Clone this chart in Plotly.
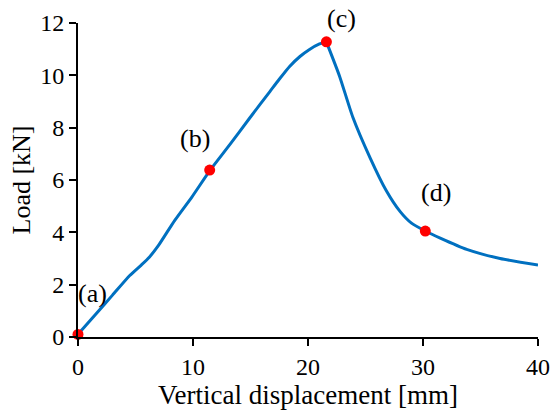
import plotly.graph_objects as go

# Curve data (vertical displacement [mm], load [kN]) - rising branch and softening branch
rise_x = [0, 1.5, 3.0, 4.5, 5.5, 6.2, 7.0, 8.4, 9.9, 11.45, 13.2, 14.9,
          16.7, 17.5, 18.4, 19.3, 20.1, 21.0, 21.6]
rise_y = [0.1, 0.85, 1.6, 2.35, 2.75, 3.05, 3.5, 4.45, 5.35, 6.35, 7.35, 8.35,
          9.39, 9.85, 10.34, 10.72, 10.98, 11.2, 11.28]
fall_x = [21.6, 22.75, 23.9, 25.4, 26.8, 28.0, 29.0, 30.2, 31.5, 33.8, 36.7, 40.0]
fall_y = [11.28, 9.96, 8.4, 6.85, 5.6, 4.8, 4.35, 4.05, 3.78, 3.35, 3.0, 2.75]

# Marked stages
stage_x = [0, 11.45, 21.6, 30.2]
stage_y = [0.1, 6.38, 11.28, 4.05]
stage_labels = ["(a)", "(b)", "(c)", "(d)"]
label_x = [1.23, 10.2, 22.9, 31.1]
label_y = [1.65, 7.57, 12.19, 5.52]

x_ticks = [0, 10, 20, 30, 40]
y_ticks = [0, 2, 4, 6, 8, 10, 12]
Y_RANGE = [0, 12]

FONT = "Liberation Serif, Times New Roman, serif"

fig = go.Figure()
for xs, ys in ((rise_x, rise_y), (fall_x, fall_y)):
    fig.add_trace(go.Scatter(x=xs, y=ys, mode="lines",
                             line=dict(color="#0070C0", width=3, shape="spline", smoothing=0.6),
                             showlegend=False, hoverinfo="skip"))
fig.add_trace(go.Scatter(x=stage_x, y=stage_y, mode="markers",
                         marker=dict(color="#FF0000", size=11), showlegend=False,
                         cliponaxis=False, hoverinfo="skip"))

# stage labels (paper y so that the label above the axis top is not hidden)
for lx, ly, t in zip(label_x, label_y, stage_labels):
    fig.add_annotation(x=lx, xref="x", y=(ly - Y_RANGE[0]) / (Y_RANGE[1] - Y_RANGE[0]),
                       yref="paper", text=t, showarrow=False,
                       xanchor="center", yanchor="middle",
                       font=dict(family=FONT, size=26, color="black"))

fig.update_layout(
    width=551, height=417,
    margin=dict(l=78, r=13, t=23, b=80, autoexpand=False),
    paper_bgcolor="white", plot_bgcolor="white",
    font=dict(family=FONT, size=24, color="black"),
    xaxis=dict(range=[0, 40], tickvals=x_ticks, showgrid=False, zeroline=False,
               showline=True, linecolor="black", linewidth=2, automargin=False,
               ticks="outside", ticklen=7, tickwidth=2, tickcolor="black",
               title=dict(text="Vertical displacement [mm]", font=dict(size=27), standoff=2)),
    yaxis=dict(range=Y_RANGE, tickvals=y_ticks, showgrid=False, zeroline=False,
               showline=True, linecolor="black", linewidth=2, automargin=False,
               ticks="outside", ticklen=7, tickwidth=2, tickcolor="black",
               title=dict(text="Load [kN]", font=dict(size=26), standoff=2)),
)

# remove the default page margin so the figure sits at the window's top-left corner
fig.write_html("out.html", config={"displayModeBar": False},
               post_script="document.body.style.margin='0';document.body.style.overflow='hidden';")
